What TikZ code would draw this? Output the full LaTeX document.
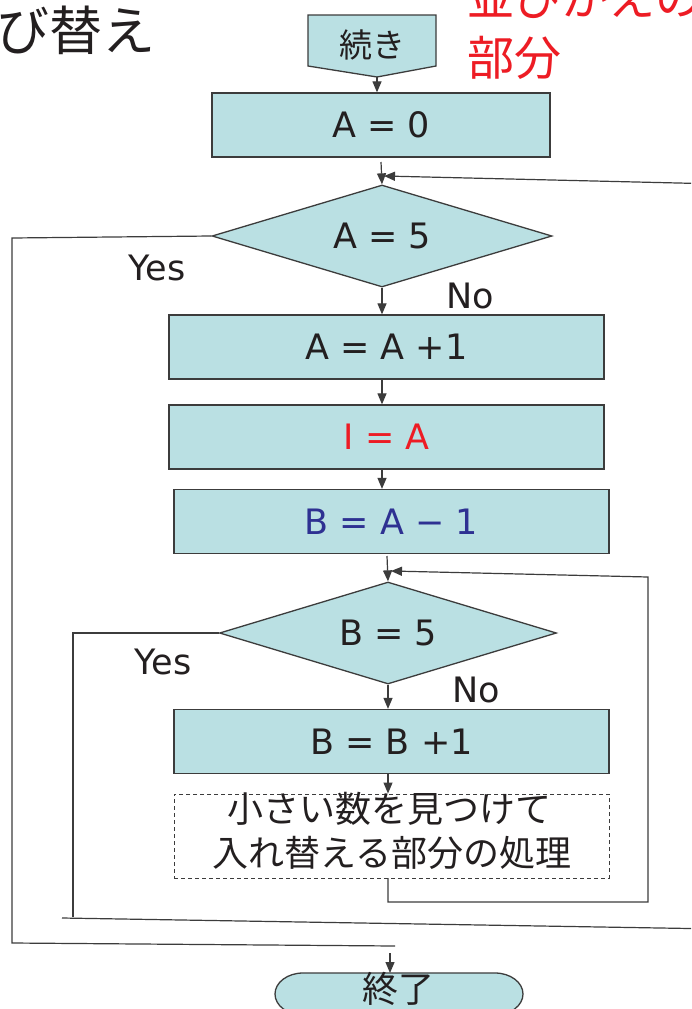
\documentclass[tikz,border=0pt]{standalone}
\usepackage{fontspec}
\setmainfont{DejaVu Sans}
\newfontfamily\jp{Noto Sans CJK JP}
\usetikzlibrary{arrows.meta,shapes.geometric}
\definecolor{boxfill}{RGB}{186,224,227}
\definecolor{edge}{RGB}{60,60,60}
\definecolor{txt}{RGB}{35,31,32}
\definecolor{redtxt}{RGB}{237,28,36}
\definecolor{bluetxt}{RGB}{46,49,146}
\tikzset{
  lbl/.style={text=txt, inner sep=0pt, font=\fontsize{35}{42}\selectfont},
  jplbl/.style={text=txt, inner sep=0pt, font=\jp\fontsize{36}{45}\selectfont, align=center},
  procbox/.style={draw=edge, fill=boxfill, line width=1.3pt, minimum width=435pt, minimum height=64pt, inner sep=0pt, text=txt, font=\fontsize{35}{42}\selectfont},
  decision/.style={diamond, aspect=3.3, draw=edge, fill=boxfill, line width=1.3pt, minimum width=340pt, minimum height=102pt, inner sep=0pt, text=txt, font=\fontsize{35}{42}\selectfont},
  shapeline/.style={draw=edge, fill=boxfill, line width=1.3pt},
  conn/.style={draw=edge, line width=1.2pt},
  arr/.style={conn, -{Triangle[length=11pt,width=9pt]}},
  dashbox/.style={draw=edge, line width=1pt, dash pattern=on 4pt off 3pt, minimum width=435pt, minimum height=84pt, inner sep=0pt}
}
\begin{document}
\begin{tikzpicture}[x=1pt,y=-1pt]
\useasboundingbox (0,0) rectangle (691,1009);
\fill[white] (0,0) rectangle (691,1009);
\clip (0,0) rectangle (691,1009);

% titles
\node[anchor=base east, inner sep=0pt, text=txt, font=\jp\fontsize{53}{53}\selectfont] (title) at (156,50) {並び替え};
\node[anchor=base west, inner sep=0pt, text=redtxt, font=\jp\fontsize{47}{47}\selectfont] (note1) at (467,16) {並びかえの};
\node[anchor=base west, inner sep=0pt, text=redtxt, font=\jp\fontsize{47}{47}\selectfont] (note2) at (467,75) {部分};

% continuation (off-page connector)
\draw[shapeline] (308,15) -- (436,15) -- (436,66) -- (377,77) -- (308,66) -- cycle;
\node[jplbl, font=\jp\fontsize{33}{33}\selectfont] (cont) at (372,45) {続き};
\coordinate (contp) at (377,77);

% boxes
\node[procbox, minimum width=338pt] (a0) at (381,125) {A = 0};
\node[decision] (d1) at (382,236) {A = 5};
\node[procbox] (a1) at (386.5,347) {A = A +1};
\node[procbox, text=redtxt] (a2) at (386.5,437) {I = A};
\node[procbox, text=bluetxt] (a3) at (391.5,521.5) {B = A − 1};
\node[decision, minimum width=337pt] (d2) at (388,633) {B = 5};
\node[procbox] (a4) at (391.5,741.5) {B = B +1};
\node[dashbox] (p) at (391.5,836) {};
\node[jplbl] (p1) at (389,809) {小さい数を見つけて};
\node[jplbl] (p2) at (392,853) {入れ替える部分の処理};

% terminator
\draw[shapeline] (303,973) -- (495,973) arc[start angle=-90, end angle=90, x radius=28, y radius=21]
  -- (303,1015) arc[start angle=90, end angle=270, x radius=28, y radius=21] -- cycle;
\node[jplbl] (end) at (398,989) {終了};

% labels
\node[lbl] (yes1) at (157,268) {Yes};
\node[lbl] (no1) at (470,296) {No};
\node[lbl] (yes2) at (163,662) {Yes};
\node[lbl] (no2) at (476,690) {No};

% coordinates
\coordinate (a0s) at (381,162);
\coordinate (aret) at (384,176);
\coordinate (y1a) at (12,238);
\coordinate (y1b) at (12,943);
\coordinate (y1c) at (395,946);
\coordinate (e0) at (390,953);
\coordinate (endtop) at (390,973);
\coordinate (a3s) at (387,556);
\coordinate (y2a) at (73,633);
\coordinate (y2b) at (73,917);
\coordinate (b3) at (62,918);
\coordinate (b4) at (720,929);
\coordinate (b5) at (720,184);
\coordinate (ps) at (388,878);
\coordinate (r1) at (388,902);
\coordinate (r2) at (648,902);
\coordinate (r3) at (648,577);
\coordinate (bret) at (391,571);

% connectors
\draw[arr] (contp) -- (contp |- a0.north);
\draw[arr] (a0s) -- (d1.north);
\draw[arr] (b3) -- (b4) -- (b5) -- (aret);
\draw[conn] (d1.west) -- (y1a) -- (y1b) -- (y1c);
\draw[arr] (e0) -- (endtop);
\draw[arr] (d1.south) -- (d1.south |- a1.north);
\draw[arr] (a1.south -| d1.south) -- (d1.south |- a2.north);
\draw[arr] (a2.south -| d1.south) -- (d1.south |- a3.north);
\draw[arr] (a3s) -- (d2.north);
\draw[conn] (d2.west) -- (y2a) -- (y2b);
\draw[arr] (d2.south) -- (d2.south |- a4.north);
\draw[arr] (a4.south -| d2.south) -- (d2.south |- p.north);
\draw[arr] (ps) -- (r1) -- (r2) -- (r3) -- (bret);
\end{tikzpicture}
\end{document}
